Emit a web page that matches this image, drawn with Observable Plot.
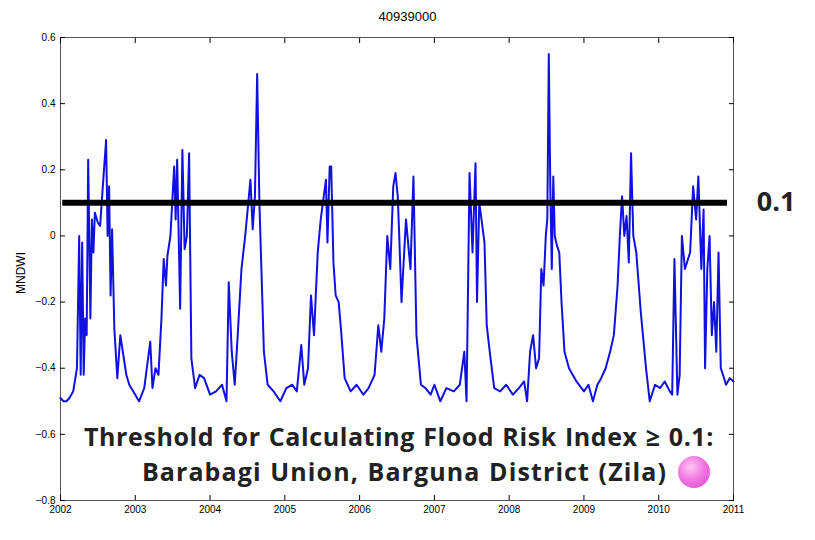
<!DOCTYPE html>
<html><head><meta charset="utf-8">
<script src="https://cdn.jsdelivr.net/npm/d3@7"></script>
<script src="https://cdn.jsdelivr.net/npm/@observablehq/plot@0.6"></script>
<style>
body{margin:0;background:#fff;font-family:Arial,"Liberation Sans",sans-serif;}
#wrap{position:relative;width:815px;height:540px;}
.ov{position:absolute;font-family:"Open Sans",sans-serif;font-weight:700;color:#222;font-size:25px;white-space:nowrap;letter-spacing:0.6px;word-spacing:1px;line-height:30px}
</style></head><body>
<div id="wrap"></div>
<script>
const title = "40939000";
const threshold = 0.1;
const years = [2002,2003,2004,2005,2006,2007,2008,2009,2010,2011];
const yTicks = [-0.8,-0.6,-0.4,-0.2,0,0.2,0.4,0.6];
const t = [2002.00,2002.04,2002.08,2002.12,2002.17,2002.22,2002.25,2002.27,2002.29,2002.31,2002.33,2002.35,2002.37,2002.40,2002.42,2002.44,2002.46,2002.50,2002.53,2002.56,2002.61,2002.63,2002.65,2002.67,2002.69,2002.72,2002.76,2002.80,2002.84,2002.88,2002.92,2003.00,2003.05,2003.12,2003.20,2003.23,2003.27,2003.31,2003.35,2003.38,2003.41,2003.43,2003.47,2003.52,2003.54,2003.56,2003.60,2003.63,2003.66,2003.69,2003.72,2003.75,2003.80,2003.86,2003.92,2004.00,2004.08,2004.16,2004.22,2004.25,2004.29,2004.33,2004.37,2004.42,2004.47,2004.54,2004.57,2004.60,2004.63,2004.66,2004.68,2004.70,2004.72,2004.77,2004.85,2004.94,2005.02,2005.10,2005.16,2005.22,2005.26,2005.31,2005.35,2005.39,2005.44,2005.48,2005.55,2005.57,2005.60,2005.62,2005.65,2005.68,2005.72,2005.75,2005.80,2005.88,2005.96,2006.05,2006.12,2006.20,2006.25,2006.29,2006.33,2006.37,2006.41,2006.45,2006.48,2006.51,2006.53,2006.56,2006.62,2006.68,2006.72,2006.76,2006.82,2006.88,2006.95,2007.00,2007.08,2007.16,2007.26,2007.34,2007.40,2007.43,2007.47,2007.51,2007.55,2007.57,2007.60,2007.63,2007.67,2007.70,2007.74,2007.80,2007.88,2007.96,2008.05,2008.13,2008.20,2008.24,2008.28,2008.32,2008.36,2008.40,2008.43,2008.46,2008.49,2008.51,2008.53,2008.55,2008.57,2008.59,2008.61,2008.64,2008.67,2008.70,2008.74,2008.80,2008.90,2009.00,2009.06,2009.12,2009.18,2009.23,2009.29,2009.35,2009.40,2009.45,2009.48,2009.51,2009.54,2009.57,2009.60,2009.63,2009.66,2009.70,2009.76,2009.83,2009.88,2009.95,2010.02,2010.08,2010.15,2010.18,2010.21,2010.25,2010.28,2010.31,2010.35,2010.42,2010.46,2010.50,2010.53,2010.57,2010.60,2010.62,2010.65,2010.68,2010.71,2010.74,2010.77,2010.80,2010.83,2010.86,2010.90,2010.95,2011.00];
const v = [-0.49,-0.50,-0.50,-0.49,-0.47,-0.40,0.00,-0.42,-0.02,-0.42,-0.25,-0.30,0.23,-0.25,0.05,-0.05,0.07,0.04,0.03,0.13,0.29,0.00,0.15,-0.18,0.02,-0.28,-0.43,-0.30,-0.36,-0.42,-0.45,-0.48,-0.50,-0.46,-0.32,-0.46,-0.40,-0.42,-0.25,-0.07,-0.15,-0.06,0.00,0.21,0.05,0.23,-0.22,0.26,-0.04,0.00,0.25,-0.37,-0.46,-0.42,-0.43,-0.48,-0.47,-0.45,-0.50,-0.14,-0.35,-0.45,-0.30,-0.10,0.00,0.17,0.02,0.12,0.49,0.10,-0.05,-0.20,-0.35,-0.45,-0.47,-0.50,-0.46,-0.45,-0.47,-0.33,-0.45,-0.40,-0.18,-0.30,-0.05,0.05,0.17,-0.02,0.21,0.21,-0.08,-0.18,-0.20,-0.28,-0.43,-0.47,-0.45,-0.48,-0.46,-0.42,-0.27,-0.35,-0.25,0.00,-0.10,0.15,0.19,0.12,0.00,-0.20,0.05,-0.10,0.18,-0.30,-0.45,-0.46,-0.48,-0.45,-0.50,-0.46,-0.47,-0.45,-0.35,-0.50,0.19,-0.05,0.22,-0.20,0.10,0.05,-0.02,-0.27,-0.35,-0.46,-0.47,-0.45,-0.48,-0.46,-0.44,-0.50,-0.35,-0.30,-0.40,-0.37,-0.10,-0.15,0.00,0.05,0.55,0.15,-0.10,0.18,0.00,-0.03,-0.05,-0.20,-0.35,-0.40,-0.44,-0.47,-0.45,-0.50,-0.45,-0.43,-0.40,-0.35,-0.30,-0.15,0.00,0.12,0.00,0.06,-0.08,0.25,0.00,-0.05,-0.23,-0.40,-0.50,-0.45,-0.46,-0.44,-0.47,-0.48,-0.07,-0.48,-0.42,0.00,-0.10,-0.05,0.15,0.05,0.18,-0.10,0.08,-0.40,-0.10,0.00,-0.30,-0.20,-0.35,-0.05,-0.40,-0.42,-0.45,-0.43,-0.44];
const data = t.map((d,i)=>({t:d, v:v[i]}));

const chart = Plot.plot({
  width: 815, height: 540,
  marginLeft: 60, marginRight: 82, marginTop: 37, marginBottom: 40,
  style: {fontFamily: "Arial, 'Liberation Sans', sans-serif", fontSize: "10px", color: "#000", background: "#fff"},
  x: {domain: [2002, 2011]},
  y: {domain: [-0.8, 0.6]},
  marks: [
    Plot.frame({stroke: "#555"}),
    Plot.axisX({anchor: "bottom", ticks: years, tickSize: -5, tickPadding: 10, tickFormat: d => String(d), label: null}),
    Plot.axisX({anchor: "top", ticks: years, tickSize: -5, tickFormat: () => "", label: null}),
    Plot.axisY({anchor: "left", ticks: yTicks, tickSize: -5, tickPadding: 10, tickFormat: d => d === 0 ? "0" : d3.format(".1f")(d), label: null}),
    Plot.axisY({anchor: "right", ticks: yTicks, tickSize: -5, tickFormat: () => "", label: null}),
    Plot.line(data, {x: "t", y: "v", stroke: "#1010e0", strokeWidth: 2}),
    Plot.ruleY([threshold], {x1: 2002.03, x2: 2010.92, stroke: "#000", strokeWidth: 6}),
    Plot.text([threshold], {x: 2011.57, y: d => d, text: d => "0.1", fontSize: 27, fontWeight: "bold", fontFamily: "'Open Sans', sans-serif", fill: "#222"})
  ]
});
const wrap = document.getElementById("wrap");
wrap.appendChild(chart);
chart.style.position = "absolute"; chart.style.left = "0"; chart.style.top = "0";
function add(html, css){const d=document.createElement("div");d.innerHTML=html;d.style.cssText="position:absolute;"+css;wrap.appendChild(d);return d;}
add(title, "left:0;width:815px;top:9px;text-align:center;font-size:13px;font-family:Arial,'Liberation Sans',sans-serif;");
add("MNDWI", "left:14px;top:294px;transform:rotate(-90deg);transform-origin:left top;font-size:12px;font-family:Arial,'Liberation Sans',sans-serif;");
const l1 = add("Threshold for Calculating Flood Risk Index ≥ 0.1:", "");
l1.className="ov"; l1.style.right = (815-714)+"px"; l1.style.top = "421px";
const l2 = add("Barabagi Union, Barguna District (Zila)", "");
l2.className="ov"; l2.style.letterSpacing = "1.1px"; l2.style.right = (815-667)+"px"; l2.style.top = "456px";
add("", "left:678px;top:456px;width:32px;height:32px;border-radius:50%;background:radial-gradient(circle at 40% 35%,#ffc4f4 0%,#f07ae0 45%,#e040d0 100%);");
</script>
</body></html>
